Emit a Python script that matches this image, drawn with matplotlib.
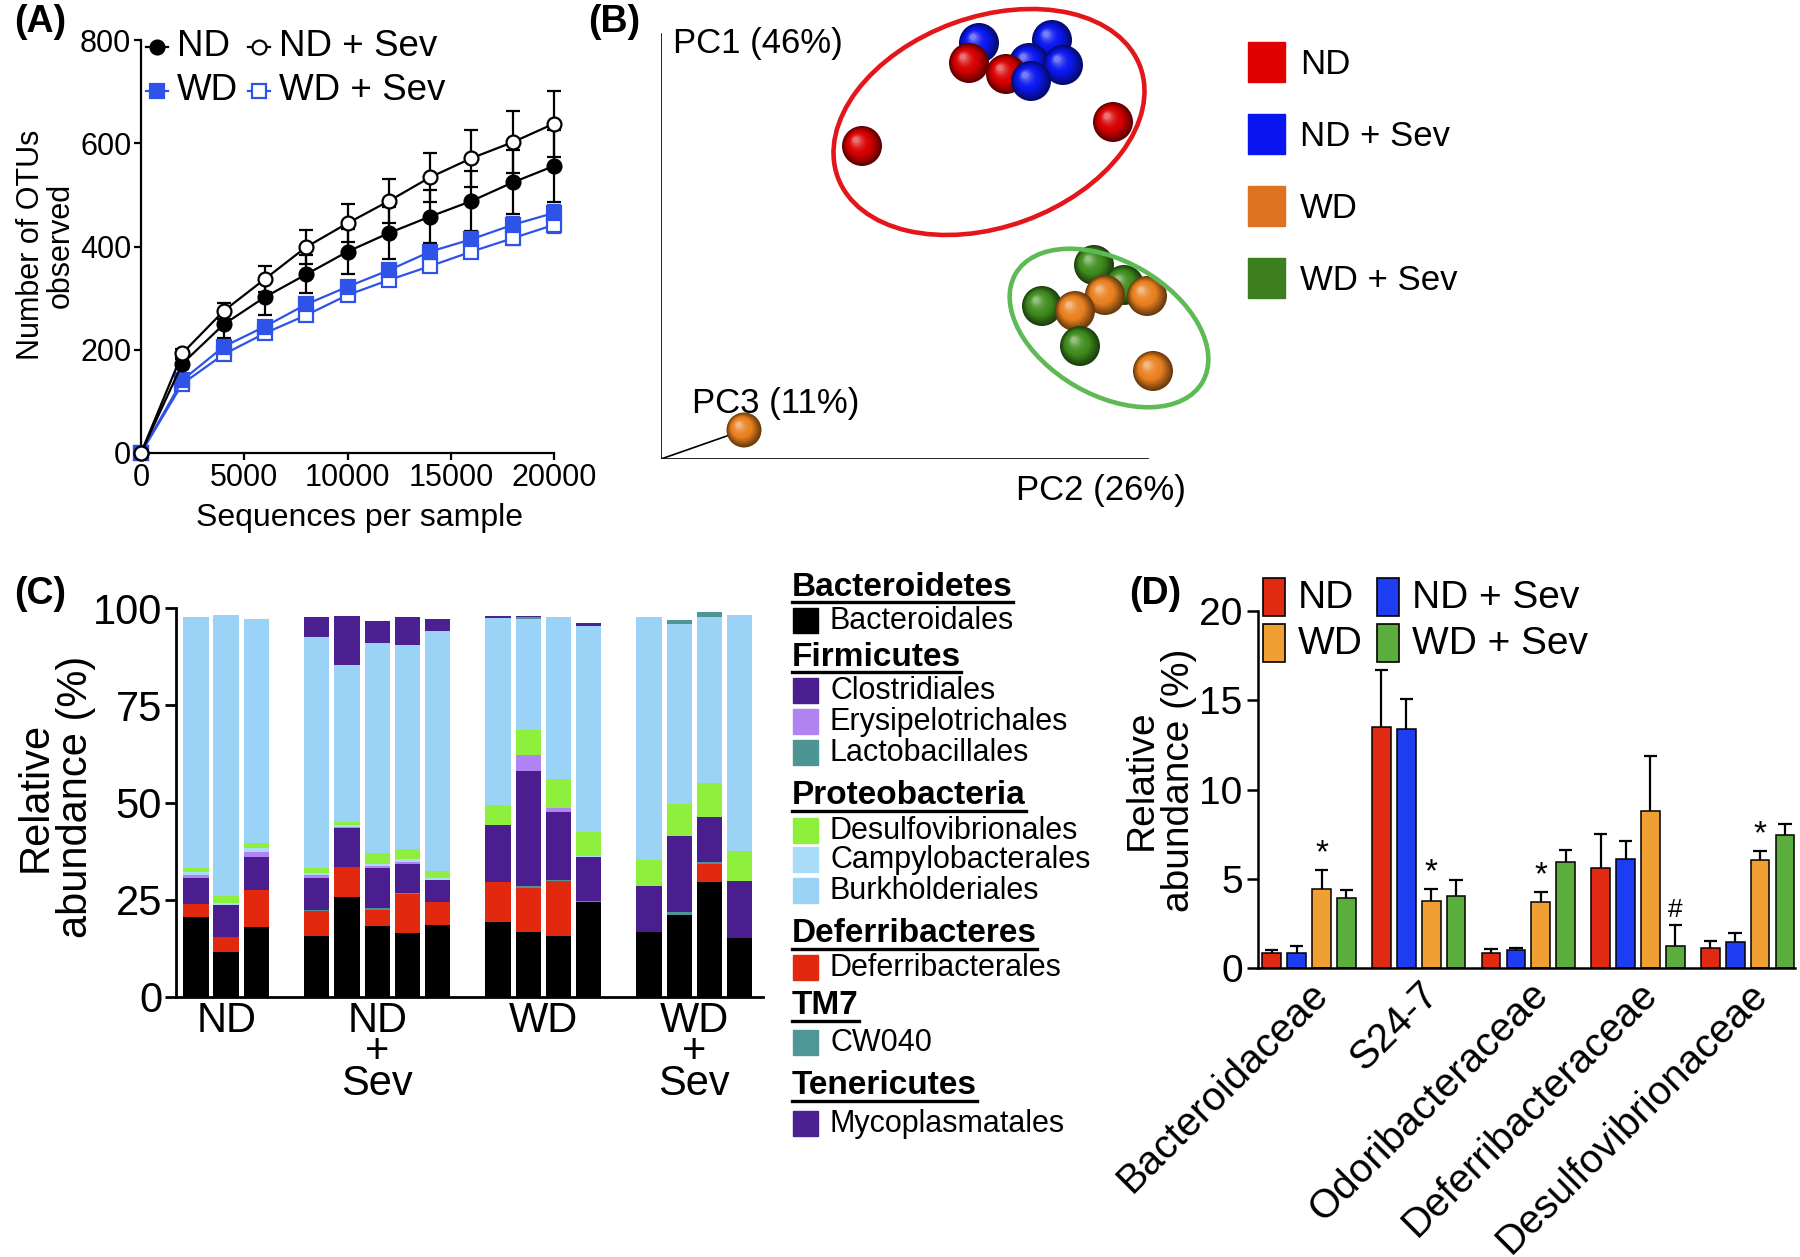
import numpy as np
import matplotlib
matplotlib.use("Agg")
import matplotlib.pyplot as plt
from matplotlib.patches import Circle, Ellipse, Rectangle
from matplotlib.lines import Line2D
from matplotlib.colors import to_rgb
import matplotlib.transforms as mtransforms

plt.rcParams['font.family'] = ['Liberation Sans', 'DejaVu Sans']
plt.rcParams['axes.linewidth'] = 1.6

W, H = 1800, 1257
fig = plt.figure(figsize=(W / 100, H / 100), dpi=100)


def fx(x):
    return x / W


def fy(y):
    return 1 - y / H


# ======================= DATA =======================
# Panel A: rarefaction curves
seq_per_sample = [0, 2000, 4000, 6000, 8000, 10000, 12000, 14000, 16000, 18000, 20000]
otus_nd = [0, 173, 249, 302, 346, 390, 426, 458, 488, 524, 556]
otus_nd_err = [0, 10, 27, 34, 37, 43, 50, 52, 58, 62, 70]
otus_ndsev = [0, 193, 275, 337, 399, 445, 488, 534, 571, 602, 638]
otus_ndsev_err = [0, 8, 16, 26, 33, 37, 42, 47, 55, 60, 64]
otus_wd = [0, 141, 206, 245, 288, 322, 354, 390, 414, 442, 465]
otus_wd_err = [0, 6, 8, 9, 10, 11, 12, 13, 14, 15, 16]
otus_wdsev = [0, 134, 191, 232, 267, 306, 335, 362, 390, 416, 442]
otus_wdsev_err = [0, 6, 8, 9, 10, 10, 11, 12, 13, 14, 15]

# Panel B: PCoA scores (PC2 horizontal, PC1 vertical, arbitrary units)
pcoa_nd_pc2 = [201, 308, 345, 452]
pcoa_nd_pc1 = [313, 396, 385, 337]
pcoa_ndsev_pc2 = [318, 391, 368, 402, 370]
pcoa_ndsev_pc1 = [416, 419, 396, 394, 378]
pcoa_wd_pc2 = [444, 486, 414, 492, 83]
pcoa_wd_pc1 = [164, 163, 148, 88, 29]
pcoa_wdsev_pc2 = [433, 463, 381, 419]
pcoa_wdsev_pc1 = [194, 174, 153, 113]

# Panel C: relative abundance per sample (%)
group_names_c = ['ND', 'ND\n+\nSev', 'WD', 'WD\n+\nSev']
group_sizes_c = [3, 5, 4, 4]
bacteroidales = [20.6, 11.5, 17.9, 15.6, 25.6, 18.2, 16.4, 18.4, 19.3, 16.7, 15.6, 24.5, 16.7, 21.1, 29.6, 15.1]
deferribacterales = [3.3, 3.8, 9.6, 6.4, 7.8, 4.2, 10.0, 6.1, 10.3, 11.2, 14.2, 0.0, 0.0, 0.0, 4.6, 0.0]
lactobacillales = [0, 0, 0, 0.3, 0, 0.4, 0.4, 0, 0, 0.6, 0.4, 0.3, 0, 0.7, 0.4, 0]
clostridiales = [6.6, 8.3, 8.5, 8.2, 10.1, 10.4, 7.4, 5.5, 14.7, 29.5, 17.3, 11.2, 11.8, 19.7, 11.7, 14.7]
erysipelotrichales = [0.9, 0, 1.4, 0.9, 0.3, 0.5, 0.6, 0, 0, 4.2, 1.2, 0, 0, 0, 0, 0]
campylobacterales = [0.7, 0.6, 0.9, 0.5, 0.3, 0.6, 0.7, 0.7, 0, 0, 0, 0.2, 0, 0, 0, 0]
desulfovibrionales = [1.0, 1.7, 1.4, 1.2, 0.9, 2.6, 2.5, 1.8, 5.0, 6.4, 7.3, 6.2, 6.6, 8.1, 8.7, 7.8]
burkholderiales = [64.6, 72.4, 57.4, 59.4, 40.4, 54.2, 52.6, 61.6, 48.2, 28.5, 41.7, 53.1, 62.6, 46.3, 42.7, 60.7]
cw040 = [0, 0, 0, 0, 0, 0, 0, 0, 0, 0.6, 0, 0, 0, 0.9, 1.2, 0]
mycoplasmatales = [0, 0, 0, 5.2, 12.6, 5.5, 7.2, 3.0, 0.4, 0.3, 0, 0.6, 0, 0, 0, 0]

# Panel D: family-level abundance (%), mean and SEM
families = ['Bacteroidaceae', 'S24-7', 'Odoribacteraceae', 'Deferribacteraceae', 'Desulfovibrionaceae']
abund_nd = [0.82, 13.5, 0.82, 5.58, 1.12]
abund_nd_err = [0.17, 3.19, 0.25, 1.92, 0.37]
abund_ndsev = [0.82, 13.4, 1.0, 6.13, 1.44]
abund_ndsev_err = [0.42, 1.67, 0.12, 1.0, 0.5]
abund_wd = [4.43, 3.74, 3.69, 8.79, 6.05]
abund_wd_err = [1.05, 0.7, 0.55, 3.11, 0.5]
abund_wdsev = [3.94, 4.06, 5.93, 1.25, 7.47]
abund_wdsev_err = [0.42, 0.87, 0.67, 1.14, 0.57]
sig_wd = ['*', '*', '*', '', '*']
sig_wdsev = ['', '', '', '#', '']

# ======================= PANEL A =======================
BLUE_A = '#2f52e8'
axA = fig.add_axes([fx(141), fy(453), (554 - 141) / W, (453 - 40) / H])
seriesA = [
    (otus_wdsev, otus_wdsev_err, BLUE_A, 's', 'white'),
    (otus_wd, otus_wd_err, BLUE_A, 's', BLUE_A),
    (otus_nd, otus_nd_err, 'black', 'o', 'black'),
    (otus_ndsev, otus_ndsev_err, 'black', 'o', 'white'),
]
for yv, ev, c, m, mfc in seriesA:
    cont = axA.errorbar(seq_per_sample, yv, yerr=ev, color=c, marker=m, mfc=mfc, mec=c,
                        ms=10, mew=1.6, lw=1.6, elinewidth=1.6, capsize=5, capthick=1.6,
                        zorder=3)
    for a in cont.get_children():
        a.set_clip_on(False)
axA.set_xlim(0, 20000)
axA.set_ylim(0, 800)
axA.set_xticks([0, 5000, 10000, 15000, 20000])
axA.set_yticks([0, 200, 400, 600, 800])
for s in ['top', 'right']:
    axA.spines[s].set_visible(False)
axA.tick_params(direction='out', length=5, width=1.6, labelsize=22, pad=2)
fig.text(fx(360), fy(518), 'Sequences per sample', fontsize=23, ha='center', va='center')
fig.text(fx(46), fy(245), 'Number of OTUs\nobserved', fontsize=22, ha='center', va='center',
         rotation=90, linespacing=1.0)

# legend A
legA = [(157, 47, 'o', 'black', 'black', 'ND'),
        (259, 47, 'o', 'black', 'white', 'ND + Sev'),
        (157, 91, 's', BLUE_A, BLUE_A, 'WD'),
        (259, 91, 's', BLUE_A, 'white', 'WD + Sev')]
for x, y, m, c, mfc, lab in legA:
    fig.add_artist(Line2D([fx(x - 11), fx(x + 11)], [fy(y), fy(y)], color=c, lw=1.6,
                          transform=fig.transFigure))
    fig.add_artist(Line2D([fx(x)], [fy(y)], marker=m, color=c, mfc=mfc, mec=c, ms=10, mew=1.6,
                          transform=fig.transFigure))
    fig.text(fx(x + 20), fy(y), lab, fontsize=26.5, ha='left', va='center')

# ======================= PANEL B =======================
axB = fig.add_axes([fx(661), fy(459), 570 / W, 459 / H])
axB.set_xlim(0, 570)
axB.set_ylim(0, 459)
axB.axis('off')
axB.plot([0, 0], [0, 425], color='black', lw=1.2)
axB.plot([0, 487], [0, 0], color='black', lw=1.2)
axB.plot([0, pcoa_wd_pc2[4]], [0, pcoa_wd_pc1[4]], color='black', lw=1.2)


def sphere(ax, x, y, r, color, z):
    base = np.array(to_rgb(color))
    dark = base * 0.45
    light = base + (1 - base) * 0.45
    n = 14
    for k in range(n):
        t = k / (n - 1)
        if t < 0.45:
            c = dark + (base - dark) * (t / 0.45)
        else:
            c = base + (light - base) * ((t - 0.45) / 0.55) ** 2
        rr = r * (1 - 0.85 * t)
        ax.add_patch(Circle((x - 0.3 * r * t, y + 0.3 * r * t), rr, color=np.clip(c, 0, 1),
                            lw=0, zorder=z + k * 0.001))


pts = []
for xs, ys, col in [(pcoa_nd_pc2, pcoa_nd_pc1, '#d60000'),
                    (pcoa_ndsev_pc2, pcoa_ndsev_pc1, '#0a17ee'),
                    (pcoa_wd_pc2, pcoa_wd_pc1, '#e9801f'),
                    (pcoa_wdsev_pc2, pcoa_wdsev_pc1, '#3f8c1d')]:
    for x, y in zip(xs, ys):
        pts.append((x, y, col))
pts.sort(key=lambda p: -p[1])
for i, (x, y, col) in enumerate(pts):
    r = 17.5 if y < 50 else 20
    sphere(axB, x, y, r, col, 3 + i * 0.05)

axB.add_patch(Ellipse((328, 337), 322, 210, angle=20, fill=False, ec='#e3161c', lw=3.3, zorder=10))
axB.add_patch(Ellipse((448, 131), 216, 134, angle=-30, fill=False, ec='#5dba55', lw=3.3, zorder=10))
axB.text(12, 415, 'PC1 (46%)', fontsize=25, ha='left', va='center')
axB.text(355, -32, 'PC2 (26%)', fontsize=25, ha='left', va='center')
axB.text(31, 55, 'PC3 (11%)', fontsize=25, ha='left', va='center')

legB = [('#e00000', 'ND', 62), ('#0a14f0', 'ND + Sev', 134), ('#dd7320', 'WD', 206),
        ('#3d7f1f', 'WD + Sev', 278)]
for col, lab, y in legB:
    fig.add_artist(Rectangle((fx(1248), fy(y + 20)), 37 / W, 40 / H, color=col,
                             transform=fig.transFigure))
    fig.text(fx(1300), fy(y + 2), lab, fontsize=25, ha='left', va='center')

# ======================= PANEL C =======================
axC = fig.add_axes([fx(176), fy(997), (763 - 176) / W, (997 - 608) / H])
positions = []
start = 0
group_centers = []
for n in group_sizes_c:
    p = list(range(start, start + n))
    positions.extend(p)
    group_centers.append(np.mean(p))
    start += n + 1
layers = [
    ('Bacteroidales', bacteroidales, '#000000'),
    ('Deferribacterales', deferribacterales, '#e2280e'),
    ('Lactobacillales', lactobacillales, '#4d9595'),
    ('Clostridiales', clostridiales, '#4a1e8e'),
    ('Erysipelotrichales', erysipelotrichales, '#b283f2'),
    ('Campylobacterales', campylobacterales, '#a9dcf6'),
    ('Desulfovibrionales', desulfovibrionales, '#8ef03c'),
    ('Burkholderiales', burkholderiales, '#9bd3f7'),
    ('CW040', cw040, '#4f9696'),
    ('Mycoplasmatales', mycoplasmatales, '#4b2191'),
]
bottom = np.zeros(len(positions))
for name, vals, col in layers:
    vals = np.array(vals, dtype=float)
    axC.bar(positions, vals, width=0.84, bottom=bottom, color=col, lw=0)
    bottom += vals
axC.set_xlim(-0.66, 18.77)
axC.set_ylim(0, 100)
axC.set_yticks([0, 25, 50, 75, 100])
axC.set_xticks([])
for s in ['top', 'right']:
    axC.spines[s].set_visible(False)
axC.spines['left'].set_linewidth(2)
axC.spines['bottom'].set_linewidth(2)
axC.tick_params(axis='y', direction='out', length=8, width=2, labelsize=30, pad=2)
trC = mtransforms.blended_transform_factory(axC.transData, fig.transFigure)
for gc, gname in zip(group_centers, group_names_c):
    axC.text(gc, fy(1001), gname, transform=trC, fontsize=30, ha='center', va='top',
             multialignment='center', linespacing=0.72)
fig.text(fx(56), fy(797), 'Relative\nabundance (%)', fontsize=30, ha='center', va='center',
         rotation=90, linespacing=1.0)

# legend C
legC = [
    ('h', 'Bacteroidetes', 587), ('i', 'Bacteroidales', 621),
    ('h', 'Firmicutes', 657), ('i', 'Clostridiales', 691), ('i', 'Erysipelotrichales', 722),
    ('i', 'Lactobacillales', 753),
    ('h', 'Proteobacteria', 796), ('i', 'Desulfovibrionales', 831), ('i', 'Campylobacterales', 860),
    ('i', 'Burkholderiales', 891),
    ('h', 'Deferribacteres', 934), ('i', 'Deferribacterales', 968),
    ('h', 'TM7', 1006), ('i', 'CW040', 1043),
    ('h', 'Tenericutes', 1086), ('i', 'Mycoplasmatales', 1124),
]
layer_colors = {name: col for name, vals, col in layers}
heading_texts = []
for kind, lab, y in legC:
    if kind == 'h':
        t = fig.text(fx(792), fy(y), lab, fontsize=24, fontweight='bold', ha='left', va='center')
        heading_texts.append(t)
    else:
        fig.add_artist(Rectangle((fx(793), fy(y + 12)), 25 / W, 25 / H,
                                 color=layer_colors[lab], transform=fig.transFigure))
        fig.text(fx(830), fy(y), lab, fontsize=22, ha='left', va='center')

# ======================= PANEL D =======================
axD = fig.add_axes([fx(1258), fy(968), (1795 - 1258) / W, (968 - 611) / H])
group_step = 4.4
d_series = [(abund_nd, abund_nd_err, '#e02a12'),
            (abund_ndsev, abund_ndsev_err, '#1e3cf2'),
            (abund_wd, abund_wd_err, '#f0a032'),
            (abund_wdsev, abund_wdsev_err, '#5bae3d')]
xbase = np.arange(len(families)) * group_step
for i, (vals, errs, col) in enumerate(d_series):
    xs = xbase + i
    vals = np.array(vals)
    errs = np.array(errs)
    axD.bar(xs, vals, width=0.75, color=col, edgecolor='black', lw=1.1, zorder=2)
    axD.vlines(xs, vals, vals + errs, color='black', lw=1.6, zorder=3)
    axD.hlines(vals + errs, xs - 0.27, xs + 0.27, color='black', lw=1.6, zorder=3)
for g in range(len(families)):
    if sig_wd[g]:
        axD.text(xbase[g] + 2, abund_wd[g] + abund_wd_err[g] + 0.05, sig_wd[g], fontsize=24,
                 ha='center', va='bottom')
    if sig_wdsev[g]:
        axD.text(xbase[g] + 3, abund_wdsev[g] + abund_wdsev_err[g] + 0.2, sig_wdsev[g],
                 fontsize=19, ha='center', va='bottom')
axD.set_xlim(-0.55, 21.0)
axD.set_ylim(0, 20)
axD.set_yticks([0, 5, 10, 15, 20])
for s in ['top', 'right']:
    axD.spines[s].set_visible(False)
axD.spines['left'].set_linewidth(1.8)
axD.spines['bottom'].set_linewidth(1.8)
axD.tick_params(axis='y', direction='out', length=8, width=1.8, labelsize=28, pad=3)
axD.tick_params(axis='x', length=0, pad=5)
axD.set_xticks(xbase + 1.5)
axD.set_xticklabels(families, rotation=45, ha='right', va='top', rotation_mode='anchor',
                    fontsize=29)
fig.text(fx(1160), fy(780), 'Relative\nabundance (%)', fontsize=28, ha='center', va='center',
         rotation=90, linespacing=1.05)

legD = [(1263, 597, '#e02a12', 'ND'), (1377, 597, '#1e3cf2', 'ND + Sev'),
        (1263, 643, '#f0a032', 'WD'), (1377, 643, '#5bae3d', 'WD + Sev')]
for x, y, col, lab in legD:
    fig.add_artist(Rectangle((fx(x), fy(y + 19)), 22 / W, 38 / H, facecolor=col,
                             edgecolor='black', lw=1.2, transform=fig.transFigure))
    fig.text(fx(x + 35), fy(y + 1), lab, fontsize=28, ha='left', va='center')

# ======================= PANEL LABELS =======================
for lab, x, y in [('(A)', 14, 22), ('(B)', 588, 22), ('(C)', 14, 594), ('(D)', 1129, 594)]:
    fig.text(fx(x), fy(y), lab, fontsize=27, fontweight='bold', ha='left', va='center')

# underline legend headings
fig.canvas.draw()
renderer = fig.canvas.get_renderer()
for t in heading_texts:
    bb = t.get_window_extent(renderer=renderer)
    yline = bb.y0 + 1
    fig.add_artist(Line2D([bb.x0 / W, bb.x1 / W], [yline / H, yline / H], color='black', lw=2.4,
                          transform=fig.transFigure))

fig.savefig('out.png', dpi=100)
